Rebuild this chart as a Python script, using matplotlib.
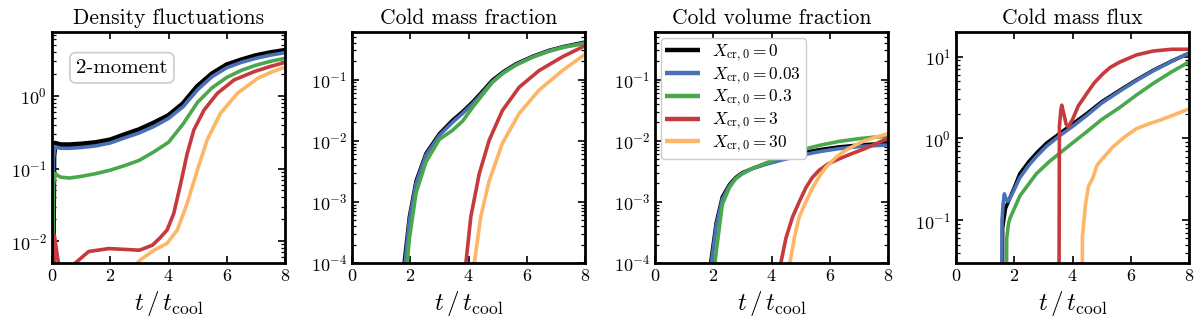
import matplotlib
matplotlib.use("Agg")
import matplotlib.pyplot as plt

plt.rcParams['font.family'] = 'serif'
plt.rcParams['font.serif'] = ['cmr10']
plt.rcParams['mathtext.fontset'] = 'cm'
plt.rcParams['axes.unicode_minus'] = False
plt.rcParams['axes.formatter.use_mathtext'] = True

labels = [r'$X_{\rm cr,0} = 0$', r'$X_{\rm cr,0} = 0.03$', r'$X_{\rm cr,0} = 0.3$',
          r'$X_{\rm cr,0} = 3$', r'$X_{\rm cr,0} = 30$']
colors = ['black', '#4a71b7', '#4aa84c', '#c6393d', '#fdb566']
titles = ['Density fluctuations', 'Cold mass fraction', 'Cold volume fraction', 'Cold mass flux']

# ---- Panel 1: density fluctuations ----
t_d = [0.0, 0.05, 0.1, 0.3, 0.6, 1.0, 1.5, 2.0, 2.5, 3.0, 3.5, 4.0, 4.5, 5.0, 5.5, 6.0, 6.5, 7.0, 7.5, 8.0]
dens_x0 = [1e-4, 0.15, 0.22, 0.21, 0.21, 0.215, 0.225, 0.245, 0.29, 0.34, 0.42, 0.53, 0.77, 1.34, 2.0, 2.65, 3.1, 3.55, 3.9, 4.2]
dens_x003 = [1e-4, 0.14, 0.2, 0.19, 0.19, 0.195, 0.205, 0.225, 0.265, 0.31, 0.38, 0.49, 0.71, 1.22, 1.85, 2.45, 2.9, 3.3, 3.65, 3.95]
dens_x03 = [1e-4, 0.06, 0.085, 0.076, 0.074, 0.078, 0.085, 0.095, 0.11, 0.13, 0.17, 0.23, 0.41, 0.82, 1.3, 1.8, 2.25, 2.65, 3.0, 3.3]
t_d_x3 = [0.0, 0.05, 0.08, 0.3, 0.5, 0.8, 1.26, 1.95, 2.5, 3.0, 3.45, 3.7, 3.95, 4.18, 4.41, 4.64, 4.87, 5.22, 5.68, 6.25, 6.94, 7.5, 8.0]
dens_x3 = [1e-3, 1e-3, 0.012, 0.003, 0.003, 0.005, 0.0072, 0.0079, 0.0077, 0.0075, 0.0088, 0.011, 0.0142, 0.024, 0.06, 0.16, 0.34, 0.64, 1.09, 1.66, 2.16, 2.55, 2.9]
t_d_x30 = [0.0, 2.5, 3.0, 3.5, 3.95, 4.3, 4.64, 4.99, 5.33, 5.79, 6.37, 7.06, 7.5, 8.0]
dens_x30 = [1e-4, 0.003, 0.0054, 0.0075, 0.0093, 0.0142, 0.033, 0.095, 0.25, 0.58, 1.09, 1.75, 2.1, 2.5]

# ---- Panel 2: cold mass fraction ----
t_m = [1.6, 1.8, 1.97, 2.2, 2.54, 3.0, 3.45, 3.8, 4.14, 4.5, 4.82, 5.2, 5.62, 6.2, 6.76, 7.3, 8.0]
mass_x0 = [1e-6, 1.1e-4, 5.7e-4, 2.2e-3, 6.2e-3, 0.013, 0.0216, 0.03, 0.043, 0.066, 0.098, 0.135, 0.18, 0.24, 0.30, 0.35, 0.41]
mass_x003 = [1e-6, 8e-5, 5e-4, 2.0e-3, 5.8e-3, 0.0122, 0.020, 0.028, 0.040, 0.062, 0.093, 0.13, 0.175, 0.235, 0.295, 0.345, 0.40]
mass_x03 = [1e-6, 3e-5, 2.5e-4, 1.4e-3, 4.5e-3, 0.0105, 0.0148, 0.021, 0.035, 0.058, 0.09, 0.128, 0.172, 0.232, 0.29, 0.34, 0.39]
t_m_x3 = [3.75, 3.91, 4.08, 4.37, 4.71, 5.16, 5.74, 6.42, 7.22, 7.96, 8.0]
mass_x3 = [1e-6, 1e-4, 5.7e-4, 2.9e-3, 0.0102, 0.031, 0.075, 0.14, 0.235, 0.35, 0.355]
t_m_x30 = [4.05, 4.2, 4.42, 4.71, 5.16, 5.74, 6.42, 7.22, 7.96, 8.0]
mass_x30 = [1e-6, 1e-4, 5.7e-4, 2.2e-3, 9e-3, 0.028, 0.067, 0.14, 0.25, 0.255]

# ---- Panel 3: cold volume fraction ----
t_v = [1.7, 1.91, 2.1, 2.31, 2.55, 2.77, 3.0, 3.34, 3.8, 4.26, 4.7, 5.18, 5.7, 6.3, 7.0, 7.5, 8.0]
vol_x0 = [1e-6, 1e-4, 4.5e-4, 1.2e-3, 1.9e-3, 2.5e-3, 3.0e-3, 3.5e-3, 4.2e-3, 5.0e-3, 5.8e-3, 6.5e-3, 7.2e-3, 7.9e-3, 8.5e-3, 8.8e-3, 9.0e-3]
vol_x003 = [1e-6, 8e-5, 4e-4, 1.1e-3, 1.8e-3, 2.4e-3, 2.9e-3, 3.5e-3, 4.1e-3, 4.7e-3, 5.3e-3, 6.0e-3, 6.7e-3, 7.4e-3, 8.0e-3, 8.3e-3, 8.5e-3]
vol_x03 = [1e-6, 2e-5, 1.5e-4, 9e-4, 1.7e-3, 2.4e-3, 2.9e-3, 3.5e-3, 4.3e-3, 5.3e-3, 6.3e-3, 7.4e-3, 8.5e-3, 9.7e-3, 0.0108, 0.0114, 0.0118]
t_v_x3 = [4.1, 4.32, 4.5, 4.72, 4.95, 5.18, 5.4, 5.64, 5.95, 6.3, 6.7, 7.2, 7.6, 8.0]
vol_x3 = [1e-6, 1e-4, 2.6e-4, 5.6e-4, 1.0e-3, 1.7e-3, 2.5e-3, 3.3e-3, 4.2e-3, 5.0e-3, 6.0e-3, 7.4e-3, 9.0e-3, 0.011]
t_v_x30 = [4.4, 4.63, 4.8, 4.95, 5.18, 5.41, 5.64, 5.87, 6.2, 6.53, 6.9, 7.2, 7.6, 8.0]
vol_x30 = [1e-6, 1e-4, 2.8e-4, 5.6e-4, 1.0e-3, 1.7e-3, 2.6e-3, 3.7e-3, 5.3e-3, 6.9e-3, 8.6e-3, 0.010, 0.0115, 0.013]

# ---- Panel 4: cold mass flux ----
t_f_x0 = [1.59, 1.6, 1.7, 1.8, 2.0, 2.19, 2.5, 2.76, 3.1, 3.56, 4.0, 4.48, 5.0, 5.63, 6.2, 6.77, 7.4, 8.0]
flux_x0 = [1e-3, 0.08, 0.14, 0.17, 0.25, 0.37, 0.52, 0.66, 0.87, 1.15, 1.5, 2.0, 2.8, 3.9, 5.2, 6.8, 8.8, 11.0]
t_f_x003 = [1.56, 1.58, 1.62, 1.66, 1.72, 1.78, 1.9, 2.19, 2.5, 2.76, 3.1, 3.56, 4.0, 4.48, 5.0, 5.63, 6.2, 6.77, 7.4, 8.0]
flux_x003 = [1e-3, 0.1, 0.16, 0.21, 0.18, 0.17, 0.2, 0.33, 0.47, 0.6, 0.8, 1.08, 1.4, 1.9, 2.7, 3.8, 5.1, 6.7, 8.7, 11.0]
t_f_x03 = [1.72, 1.74, 1.8, 1.85, 2.2, 2.76, 3.2, 3.56, 4.0, 4.48, 5.0, 5.63, 6.2, 6.77, 7.4, 8.0]
flux_x03 = [1e-3, 0.06, 0.09, 0.105, 0.2, 0.37, 0.52, 0.66, 0.88, 1.2, 1.7, 2.4, 3.4, 4.7, 6.5, 8.6]
t_f_x3 = [3.53, 3.55, 3.6, 3.63, 3.7, 3.78, 3.85, 4.0, 4.2, 4.48, 4.75, 5.05, 5.3, 5.63, 6.2, 6.77, 7.4, 8.0]
flux_x3 = [1e-3, 1.4, 2.2, 2.55, 2.0, 1.5, 1.38, 1.7, 2.5, 3.5, 4.8, 6.2, 7.4, 8.6, 10.5, 11.7, 12.3, 12.3]
t_f_x30 = [4.33, 4.34, 4.45, 4.55, 4.7, 4.84, 5.0, 5.39, 5.8, 6.2, 6.6, 7.0, 7.5, 8.0]
flux_x30 = [1e-3, 0.063, 0.16, 0.26, 0.33, 0.47, 0.55, 0.79, 1.05, 1.32, 1.5, 1.67, 1.95, 2.3]

panels = [
    [(t_d, dens_x0), (t_d, dens_x003), (t_d, dens_x03), (t_d_x3, dens_x3), (t_d_x30, dens_x30)],
    [(t_m, mass_x0), (t_m, mass_x003), (t_m, mass_x03), (t_m_x3, mass_x3), (t_m_x30, mass_x30)],
    [(t_v, vol_x0), (t_v, vol_x003), (t_v, vol_x03), (t_v_x3, vol_x3), (t_v_x30, vol_x30)],
    [(t_f_x0, flux_x0), (t_f_x003, flux_x003), (t_f_x03, flux_x03), (t_f_x3, flux_x3), (t_f_x30, flux_x30)],
]
ylims = [(5e-3, 7.6), (1e-4, 0.6), (1e-4, 0.6), (0.03, 20)]

fig = plt.figure(figsize=(12, 3.21), dpi=100)
lefts = [52, 352, 655, 956]
W, H = 1200, 321
for i, ax_left in enumerate(lefts):
    ax = fig.add_axes([ax_left / W, (321 - 263) / H, 233 / W, 231 / H])
    for j, (t, y) in enumerate(panels[i]):
        lw = 4.2 if (i == 0 and j == 0) else 2.6
        ax.semilogy(t, y, color=colors[j], lw=lw, label=labels[j], solid_capstyle='butt')
    ax.set_xlim(0, 8)
    ax.set_ylim(*ylims[i])
    ax.set_xticks([0, 2, 4, 6, 8])
    ax.set_title(titles[i], fontsize=15.5, pad=6)
    ax.set_xlabel(r'$t\,/\,t_{\rm cool}$', fontsize=18, labelpad=4)
    ax.tick_params(which='both', direction='in', top=True, right=True, labelsize=13)
    ax.tick_params(which='major', length=5, width=1.2)
    ax.tick_params(which='minor', length=2.8, width=0.9)
    for s in ax.spines.values():
        s.set_linewidth(2.0)
    if i == 0:
        ax.text(0.30, 0.845, '2-moment', transform=ax.transAxes, fontsize=15,
                ha='center', va='center',
                bbox=dict(boxstyle='round,pad=0.3', facecolor='white', edgecolor='0.8', lw=1.2))
    if i == 2:
        leg = ax.legend(loc='upper left', fontsize=12.5, handlelength=2.0, borderaxespad=0.35,
                        labelspacing=0.08, handletextpad=0.7, framealpha=1, edgecolor='0.8',
                        borderpad=0.25)
        for line in leg.get_lines():
            line.set_linewidth(3.2)

fig.savefig('out.png', dpi=100)
